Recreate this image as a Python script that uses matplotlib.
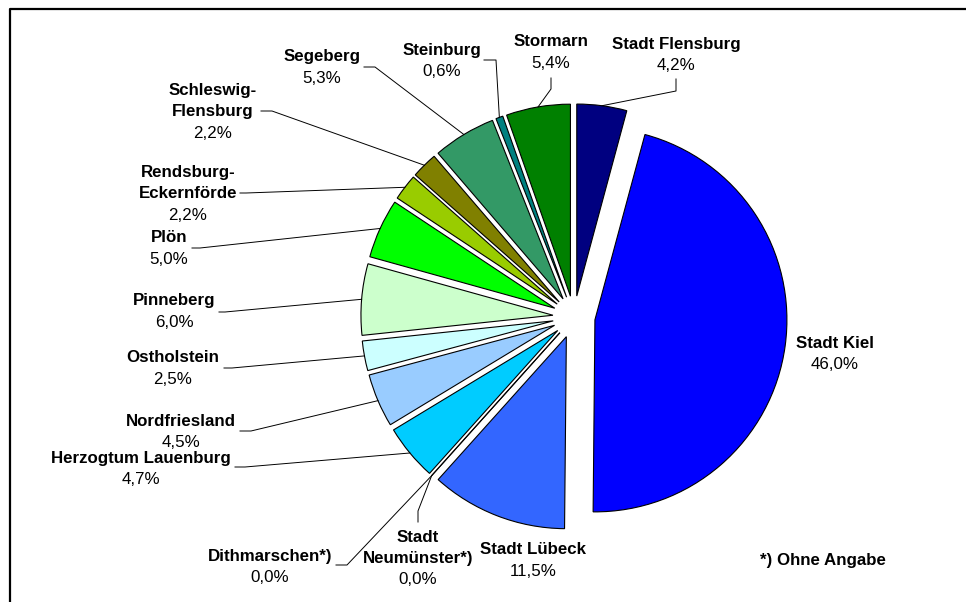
import numpy as np
import matplotlib.pyplot as plt

plt.rcParams['font.family'] = ['Liberation Sans', 'DejaVu Sans']

W, H = 966, 602

# Anteile je Kreis / kreisfreie Stadt in %
kreise = ["Stadt Flensburg", "Stadt Kiel", "Stadt Lübeck", "Stadt\nNeumünster*)",
          "Dithmarschen*)", "Herzogtum Lauenburg", "Nordfriesland", "Ostholstein",
          "Pinneberg", "Plön", "Rendsburg-\nEckernförde", "Schleswig-\nFlensburg",
          "Segeberg", "Steinburg", "Stormarn"]
anteile = [4.2, 46.0, 11.5, 0.0, 0.0, 4.7, 4.5, 2.5, 6.0, 5.0, 2.2, 2.2, 5.3, 0.6, 5.4]
farben = ["#000080", "#0000FF", "#3366FF", "#3366FF", "#00CCFF", "#00CCFF", "#99CCFF",
          "#CCFFFF", "#CCFFCC", "#00FF00", "#99CC00", "#808000", "#339966", "#008080",
          "#008000"]
fussnote = "*) Ohne Angabe"

# label placement in pixels (first text line centre, leader line start points)
label_pos = [(676, 44), (835, 343), (533, 550), (418, 537), (270, 556), (141, 458),
             (181, 421), (173, 358), (174, 301), (169, 238), (188, 172), (213, 90),
             (322, 57), (442, 50), (551, 42)]
leader = [[(676, 79), (676, 91)], None, None, [(418, 522), (418, 511)],
          [(336, 565), (347, 565)], [(235, 467), (245, 467)], [(240, 431), (251, 431)],
          [(224, 368), (232, 368)], [(219, 312), (225, 312)], [(192, 248), (200, 248)],
          [(240, 193), (246, 193)], [(261, 111), (272, 111)], [(364, 67), (375, 67)],
          [(484, 60), (496, 60)], [(551, 78), (551, 89)]]

cx, cy, r = 574, 317, 192
expl = 0.11 * r  # wedge offset in px
fs = 12.2


def px(x, y):
    return x, H - y


fig = plt.figure(figsize=(W / 100, H / 100), dpi=100)
ax = fig.add_axes([0, 0, 1, 1])

ax.pie(anteile, colors=farben, startangle=90, counterclock=False,
       explode=[expl] * len(anteile), center=px(cx, cy), radius=r,
       wedgeprops=dict(edgecolor="black", linewidth=0.8))

# slice mid-angles (clockwise from 12 o'clock)
frac = np.array(anteile) / np.sum(anteile)
mid = (np.cumsum(frac) - frac / 2) * 2 * np.pi

for i, name in enumerate(kreise):
    lx, ly = label_pos[i]
    lines = name.split("\n")
    for k, line in enumerate(lines):
        ax.text(*px(lx, ly + k * 21.5), line, ha="center", va="center",
                fontsize=fs, fontweight="bold")
    wert = f"{anteile[i]:.1f}%".replace(".", ",")
    ax.text(*px(lx, ly + len(lines) * 21.5), wert, ha="center", va="center",
            fontsize=fs)
    if leader[i] is not None:
        d = np.array([np.sin(mid[i]), np.cos(mid[i])])
        tip = np.array(px(cx, cy)) + (expl + r) * d
        pts = [px(*p) for p in leader[i]] + [tuple(tip)]
        xs, ys = zip(*pts)
        ax.plot(xs, ys, color="black", lw=0.7)

ax.text(*px(823, 561), fussnote, ha="center", va="center", fontsize=fs,
        fontweight="bold")

# frame
ax.plot([10, 10, W + 10], [-10, H - 9, H - 9], color="black", lw=1.6)

ax.set_xlim(0, W)
ax.set_ylim(0, H)
ax.set_aspect("equal")
ax.axis("off")
fig.savefig("out.png", dpi=100)
